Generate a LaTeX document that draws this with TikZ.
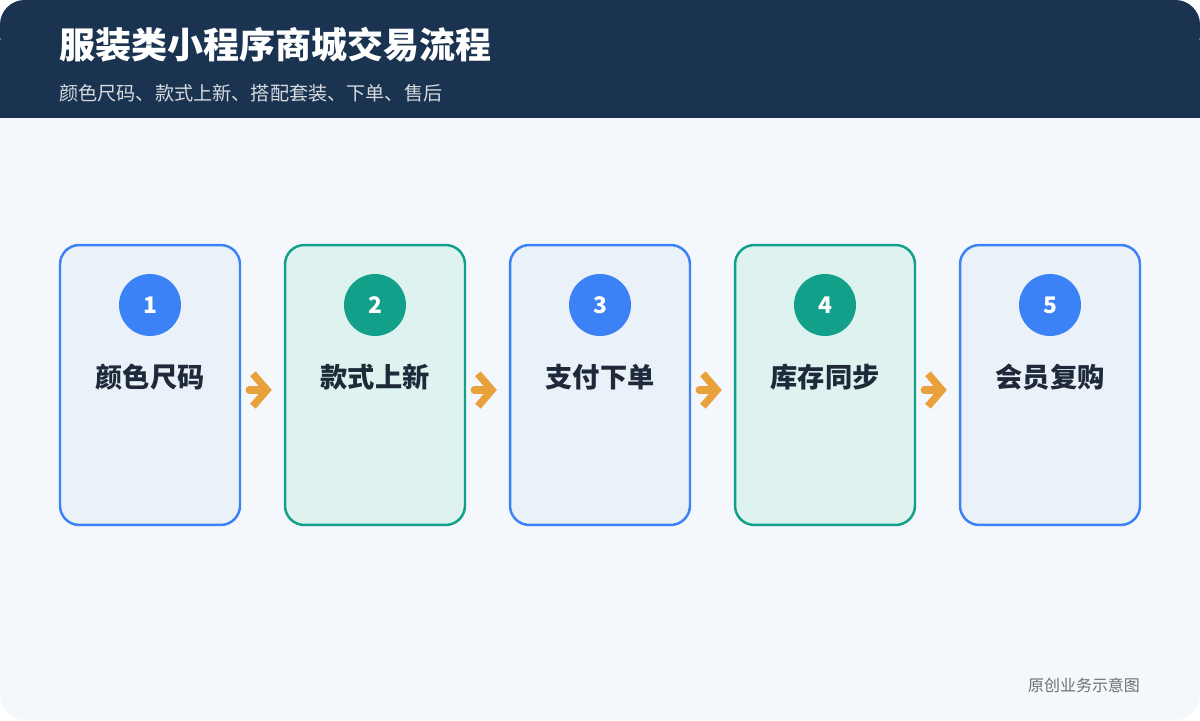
\documentclass[tikz,border=0pt]{standalone}
\usepackage{fontspec}
\setmainfont{Noto Sans CJK SC}
\usetikzlibrary{arrows.meta,positioning}
\definecolor{navy}{HTML}{1A3350}
\definecolor{pagebg}{HTML}{F4F8FC}
\definecolor{blueline}{HTML}{3B82F6}
\definecolor{bluefill}{HTML}{EAF1F8}
\definecolor{greenline}{HTML}{12A08A}
\definecolor{greenfill}{HTML}{DEF3EF}
\definecolor{arrowc}{HTML}{E9A23B}
\definecolor{textc}{HTML}{1E2A3A}
\tikzset{
  step/.style={draw=#1line,fill=#1fill,line width=1.4pt,rounded corners=11pt,
    minimum width=3.6cm,minimum height=5.6cm,inner sep=0pt},
  num/.style={circle,fill=#1line,minimum size=1.24cm,inner sep=0pt,
    text=white,font=\bfseries\fontsize{13}{15}\selectfont},
  lbl/.style={text=textc,font=\bfseries\fontsize{15.5}{18}\selectfont},
  flow/.style={-{Straight Barb[length=2.8mm,width=6.5mm]},draw=arrowc,line width=4.2pt,line cap=round}
}
\begin{document}
\begin{tikzpicture}[x=0.02cm,y=-0.02cm]
\useasboundingbox (0,0) rectangle (1200,720);
\fill[pagebg,rounded corners=14pt] (0,0) rectangle (1200,720);
\fill[navy,rounded corners=14pt] (0,0) rectangle (1200,60);
\fill[navy] (0,40) rectangle (1200,118);
\node[anchor=west,inner sep=0pt,text=white,font=\bfseries\fontsize{20.5}{24}\selectfont] (title) at (59,45) {服装类小程序商城交易流程};
\node[anchor=west,inner sep=0pt,text=white!82!navy,font=\fontsize{10.9}{13}\selectfont] (sub) at (59,93) {颜色尺码、款式上新、搭配套装、下单、售后};
\foreach \i/\t/\c in {1/颜色尺码/blue,2/款式上新/green,3/支付下单/blue,4/库存同步/green,5/会员复购/blue}{
  \node[step=\c] (box\i) at ({150+225*(\i-1)},385) {};
  \node[num=\c] (n\i) at ({150+225*(\i-1)},305) {\i};
  \node[lbl] (t\i) at ({150+225*(\i-1)},377) {\t};
}
\foreach \i [evaluate=\i as \j using int(\i+1)] in {1,...,4}{
  \coordinate (a\i) at ([xshift=8*0.02cm,yshift=-5*0.02cm]box\i.east);
  \coordinate (b\i) at ([xshift=-12*0.02cm,yshift=-5*0.02cm]box\j.west);
  \draw[flow] (a\i) -- (b\i);
}
\node[text=gray!80!navy,inner sep=0pt,font=\fontsize{9.1}{11}\selectfont] (foot) at (1084,685) {原创业务示意图};
\end{tikzpicture}
\end{document}
